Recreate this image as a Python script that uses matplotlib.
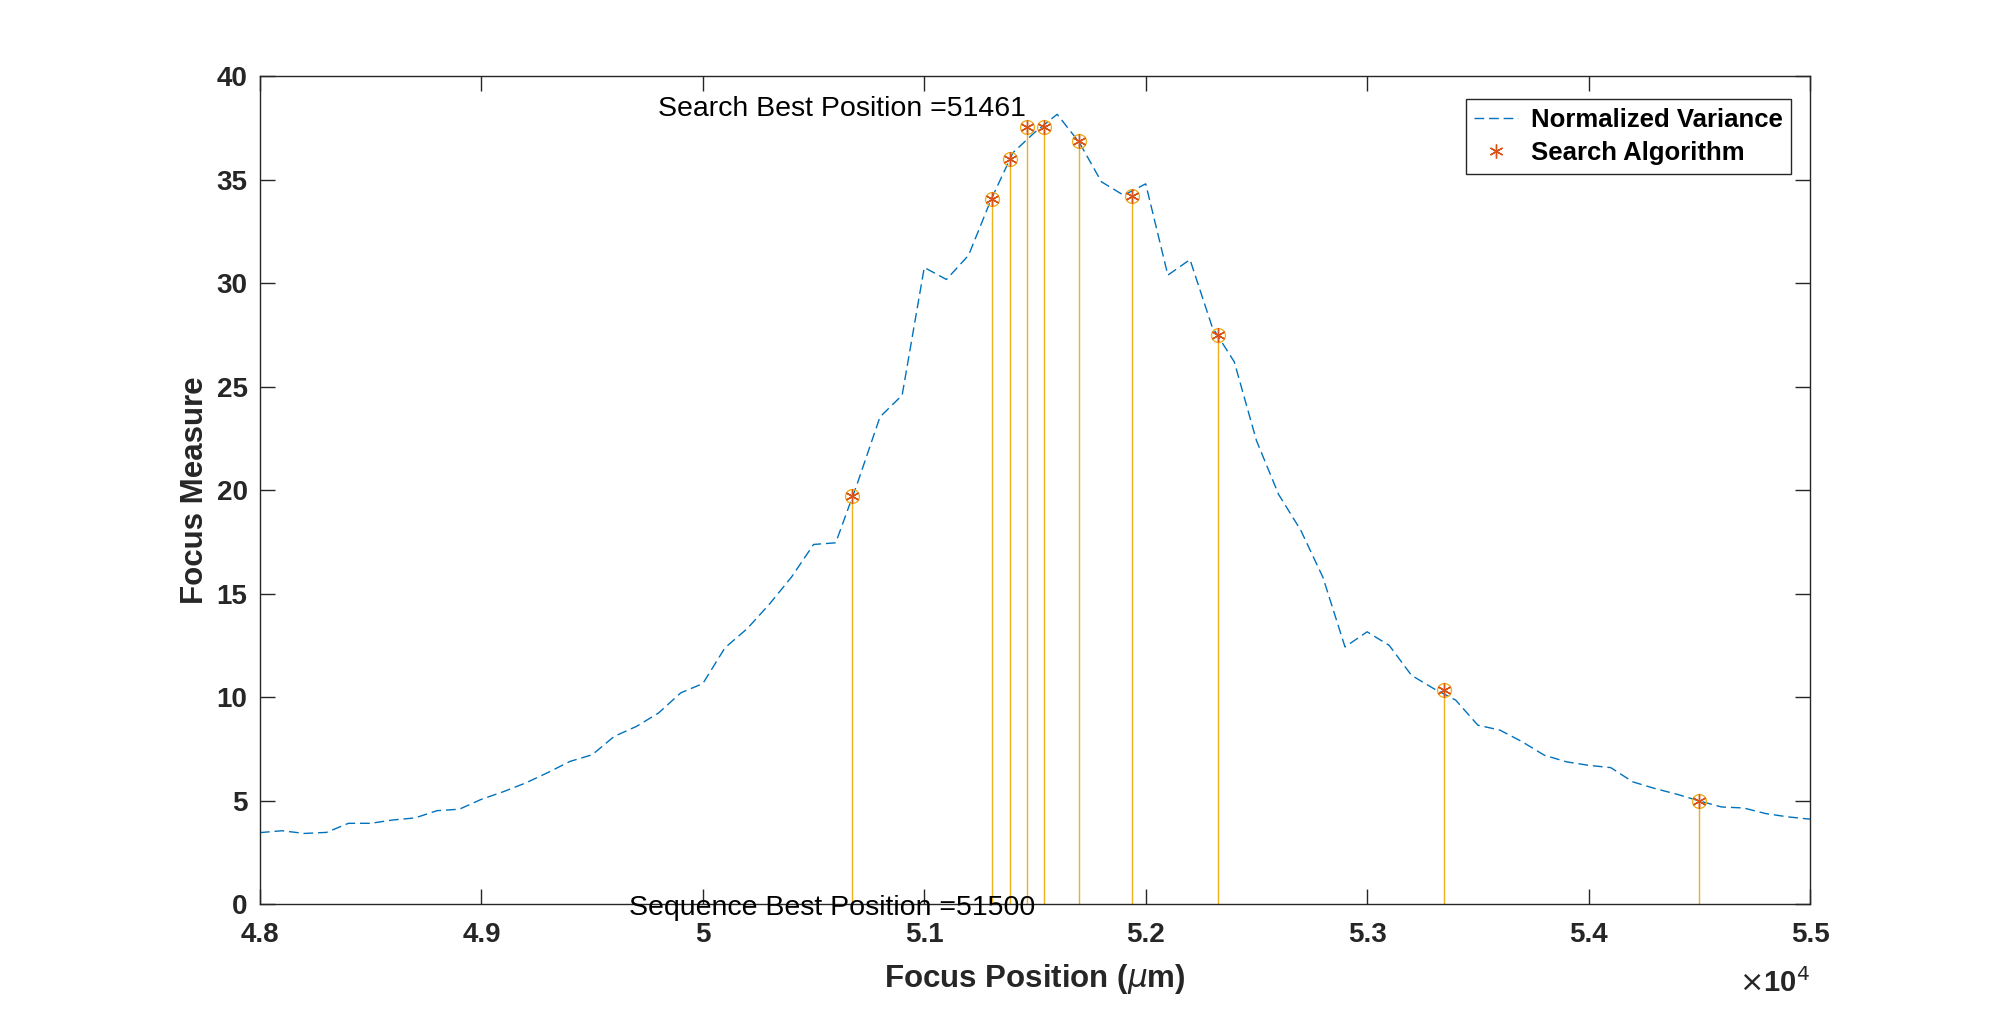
import matplotlib
matplotlib.use("Agg")
import matplotlib.pyplot as plt
from matplotlib.ticker import FuncFormatter, MultipleLocator

plt.rcParams['font.family'] = ['Liberation Sans', 'DejaVu Sans']
plt.rcParams['mathtext.fontset'] = 'dejavusans'

# ---- data ----
positions = list(range(48000, 55001, 100))
variance = [3.46, 3.55, 3.42, 3.47, 3.91, 3.91, 4.07, 4.17, 4.52, 4.59,
            5.07, 5.44, 5.86, 6.36, 6.90, 7.22, 8.11, 8.59, 9.24, 10.21,
            10.66, 12.39, 13.31, 14.49, 15.80, 17.38, 17.46, 20.40, 23.54, 24.59,
            30.76, 30.18, 31.35, 34.00, 36.30, 37.30, 38.16, 36.80, 34.90, 34.25,
            34.80, 30.39, 31.14, 27.89, 26.20, 22.40, 19.80, 18.07, 15.80, 12.43,
            13.16, 12.50, 11.06, 10.42, 9.86, 8.65, 8.41, 7.85, 7.20, 6.88,
            6.71, 6.60, 5.91, 5.59, 5.31, 4.99, 4.70, 4.65, 4.38, 4.22,
            4.11]
search_x = [50675, 51305, 51386, 51462, 51542, 51697, 51936, 52328, 53347, 54499]
search_y = [19.72, 34.07, 35.98, 37.55, 37.55, 36.87, 34.20, 27.52, 10.34, 4.99]
search_best = 51461
sequence_best = 51500
x_ticks = list(range(48000, 55001, 1000))
y_ticks = list(range(0, 41, 5))

blue = (0.0, 0.447, 0.741)
orange = (0.85, 0.325, 0.098)
yellow = (0.929, 0.694, 0.125)
axc = (0.15, 0.15, 0.15)

fig = plt.figure(figsize=(20, 10.16), dpi=100)
ax = fig.add_axes([0.13, 0.11, 0.775, 0.815])

ax.plot(positions, variance, linestyle='--', dashes=(7, 3.5), color=blue,
        lw=1.0, label='Normalized Variance')
ax.vlines(search_x, 0, search_y, color=yellow, lw=1.0)
ax.plot(search_x, search_y, 'o', ms=10, mfc='none', mec=yellow, mew=1.0)
ax.plot(search_x, search_y, linestyle='none', marker=(6, 2, 0), ms=10,
        color=orange, mew=1.0, label='Search Algorithm')

ax.text(search_best, 38.4, 'Search Best Position =%d' % search_best,
        ha='right', va='center', fontsize=20.5, color='black')
ax.text(sequence_best, -0.2, 'Sequence Best Position =%d' % sequence_best,
        ha='right', va='center', fontsize=20.5, color='black')

ax.set_xlim(48000, 55000)
ax.set_ylim(0, 40)
ax.set_xticks(x_ticks)
ax.set_yticks(y_ticks)
ax.xaxis.set_major_formatter(FuncFormatter(lambda v, p: f'{v/1e4:g}'))
ax.tick_params(direction='in', length=11, width=1.0, colors=axc,
               top=True, right=True, labelsize=20)
ax.tick_params(axis='x', pad=13)
ax.tick_params(axis='y', pad=9)
for lab in ax.get_xticklabels() + ax.get_yticklabels():
    lab.set_fontweight('bold')
for sp in ax.spines.values():
    sp.set_color(axc)
    sp.set_linewidth(1.0)

ax.set_xlabel(r'Focus Position ($\mu$m)', fontsize=22.5, fontweight='bold',
              color=axc, labelpad=10)
ax.set_ylabel('Focus Measure', fontsize=22.5, fontweight='bold',
              color=axc, labelpad=5)

ax.text(1.0, -0.077, r'$\times$10$^{4}$', transform=ax.transAxes,
        ha='right', va='top', fontsize=21, fontweight='bold', color=axc)

leg = ax.legend(loc='upper right', bbox_to_anchor=(0.9877, 0.972),
                borderaxespad=0, fancybox=False, framealpha=1,
                edgecolor=axc, prop={'size': 18.5, 'weight': 'bold'},
                handlelength=1.7, handletextpad=0.5, borderpad=0.32,
                labelspacing=0.38)
leg.get_frame().set_linewidth(1.0)

fig.savefig('out.png', dpi=100)
